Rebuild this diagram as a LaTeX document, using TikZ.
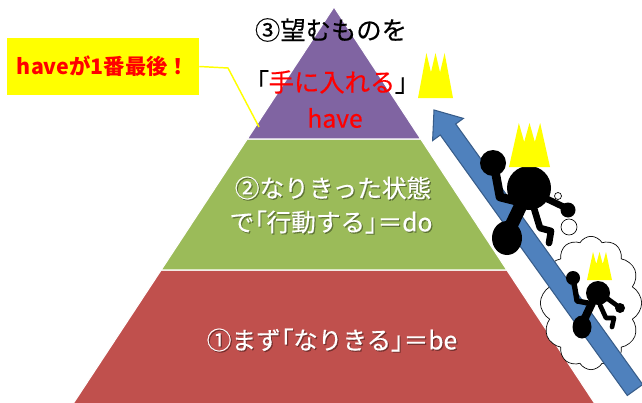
\documentclass[tikz,border=0pt]{standalone}
\usepackage{fontspec}
\setmainfont{Noto Sans CJK JP}
\newfontfamily\labelfont{Noto Sans CJK JP}[FakeBold=0.35]
\newfontfamily\halfpunct{Noto Sans CJK JP}[RawFeature=+palt, FakeBold=0.35]
% half-width corner brackets
\newcommand\jlb{{\halfpunct 「}}
\newcommand\jrb{{\halfpunct 」}}
\usetikzlibrary{shapes.symbols}
\definecolor{pyrPurple}{HTML}{8064A2}
\definecolor{pyrGreen}{HTML}{9BBB59}
\definecolor{pyrRed}{HTML}{C0504D}
\definecolor{arrowBlue}{HTML}{4F81BD}
\definecolor{arrowEdge}{HTML}{385D8A}
\definecolor{crownYellow}{HTML}{FFFF00}
\definecolor{hiRed}{HTML}{FF0000}

\begin{document}
\begin{tikzpicture}[x=0.75pt,y=-0.75pt,
  tier/.style={draw=white, line width=0.8pt, line join=round},
  jptext/.style={inner sep=0pt, font=\labelfont\fontsize{18.5}{22}\selectfont},
  toptext/.style={inner sep=0pt, font=\labelfont\fontsize{19}{22}\selectfont},
  whitetext/.style={jptext, text=white},
  textshadow/.style={jptext, text=black, opacity=0.35},
  notebox/.style={fill=crownYellow, minimum width=144pt, minimum height=42.75pt,
    inner sep=0pt, text=hiRed, font=\fontsize{16}{18}\selectfont\bfseries},
  limb/.style={draw=black, line cap=round, line join=round},
  puff/.style={draw=black, line width=0.5pt, fill=white},
  crown/.pic={\fill[crownYellow] (0,0) -- (0.24,-1) -- (0.37,-0.57) -- (0.5,-1)
    -- (0.63,-0.57) -- (0.76,-1) -- (1,0) -- cycle;}
]
\useasboundingbox (0,0) rectangle (642,403);
\clip (0,0) rectangle (642,403);

% three tiers of the pyramid
\filldraw[tier, fill=pyrRed] (161.2,270) -- (506.8,270) -- (599,410) -- (69,410) -- cycle;
\filldraw[tier, fill=pyrGreen] (247.3,139) -- (420.7,139) -- (506.8,270) -- (161.2,270) -- cycle;
\filldraw[tier, fill=pyrPurple] (334,7) -- (420.7,139) -- (247.3,139) -- cycle;

% thought cloud with its small bubbles
\node[cloud, cloud puffs=12, cloud puff arc=120, aspect=0.76, draw=black,
  line width=0.5pt, fill=white, minimum width=76pt, minimum height=100pt,
  inner sep=0pt] (dream) at (591,303) {};
\draw[puff] (558,196) circle (3.5);
\draw[puff] (569,227) circle (8);

% upward arrow along the slope
\filldraw[fill=arrowBlue, draw=arrowEdge, line width=0.8pt, line join=miter]
  (434,110) -- (463.4,118.4) -- (455.7,124) -- (642.7,384.5) -- (627.3,395.5)
  -- (440.3,135) -- (432.6,140.6) -- cycle;

% large climbing figure
\fill (493,163) circle (13);
\fill (529,188) circle (22);
\draw[limb, line width=6.5pt] (495,170) -- (500,197) -- (516,201);
\draw[limb, line width=5pt] (545,198) -- (566,208);
\fill (568,210) circle (7.5);
\draw[limb, line width=10pt] (522,203) -- (510,228);
\fill (507,238) ellipse (15 and 17);
\draw[limb, line width=5pt] (533,205) -- (540,228) -- (551,231) -- (549,243);
\pic[xscale=41, yscale=44] at (509,167) {crown};

% small figure in the cloud
\fill (573,278) circle (7);
\fill (598,293) circle (12);
\draw[limb, line width=4pt] (574,283) -- (577,301) -- (588,303);
\draw[limb, line width=3.5pt] (608,299) -- (619,307);
\fill (620,308) circle (5);
\draw[limb, line width=6pt] (592,303) -- (584,320);
\fill (582,327) ellipse (9.5 and 11.5);
\draw[limb, line width=3.5pt] (600,305) -- (606,318) -- (614,318) -- (612,327);
\pic[xscale=25, yscale=28] at (587,280) {crown};

% crown beside the top label
\pic[xscale=35, yscale=45] at (418,98) {crown};

% labels
\node[toptext] (wish) at (331,30) {③望むものを};
\node[toptext] (obtain) at (332,82) {\jlb\textcolor{hiRed}{手に入れる}\jrb};
\node[jptext, text=hiRed] (have) at (335,118) {have};

\node[textshadow] (stateS) at (334.2,189.2) {②なりきった状態};
\node[whitetext] (state) at (333,188) {②なりきった状態};
\node[textshadow] (actS) at (332.2,223.2) {で\jlb 行動する\jrb ＝do};
\node[whitetext] (act) at (331,222) {で\jlb 行動する\jrb ＝do};
\node[textshadow] (beS) at (333.2,341.2) {①まず\jlb なりきる\jrb ＝be};
\node[whitetext] (be) at (332,340) {①まず\jlb なりきる\jrb ＝be};

% callout box with its leader line
\node[notebox] (note) at (103,66.5) {haveが1番最後！};
\coordinate (bend) at (228,68);
\coordinate (pointer) at (259,127);
\draw[crownYellow, line width=1.1pt] (note.east) -- (bend) -- (pointer);
\end{tikzpicture}
\end{document}
